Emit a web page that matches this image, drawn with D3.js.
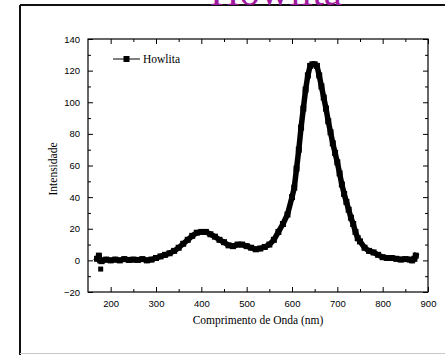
<!DOCTYPE html>
<html>
<head>
<meta charset="utf-8">
<script src="https://cdn.jsdelivr.net/npm/d3@7/dist/d3.min.js"></script>
<style>
  html, body { margin: 0; padding: 0; background: #fff; }
  svg { display: block; }
</style>
</head>
<body>
<svg id="chart" width="445" height="355"></svg>
<script>
// Emission spectrum of howlite: wavelength (nm) and intensity
const wavelength = [170, 174, 177, 180, 190, 200, 210, 220, 230, 240, 250, 260, 270, 280, 290,
  300, 310, 320, 330, 340, 350, 360, 370, 380, 390, 400, 410, 420, 430, 440, 450, 460, 470,
  480, 490, 500, 510, 520, 530, 540, 550, 560, 570, 580, 590, 600, 605, 610, 615, 620, 625,
  630, 635, 640, 645, 650, 655, 660, 665, 670, 675, 680, 685, 690, 695, 700, 705, 710, 715,
  720, 725, 730, 735, 740, 745, 750, 760, 770, 780, 790, 800, 810, 820, 830, 840, 850, 860,
  865, 870, 873];
const intensity = [1, 3, 0, -0.5, 0.5, 0, 0.5, 0, 0.8, 0.3, 0.5, 0.3, 0.8, 0, 0.5,
  1.5, 2.5, 3.5, 4.5, 6, 8, 10.5, 13, 15.5, 17.5, 18, 18, 16.5, 15, 13, 11.5, 9.5, 9,
  10, 10, 9, 8, 7, 7.5, 8.5, 10, 13, 18, 23, 29, 40, 46, 58, 70, 84, 96,
  108, 117, 123, 124, 124, 123, 117, 110, 103, 96, 88, 81, 74, 68, 62, 55, 48, 42,
  37, 32, 27, 23, 18, 14, 12, 8, 6, 5, 3.5, 2, 1.5, 1.5, 1, 0.5, 0.8, 0.5,
  0, 1, 3];
// isolated low reading near the start of the scan
const strayWavelength = [178];
const strayIntensity = [-5.5];

const xTicks = [200, 300, 400, 500, 600, 700, 800, 900];
const yTicks = [-20, 0, 20, 40, 60, 80, 100, 120, 140];
const seriesName = "Howlita";

const svg = d3.select("#chart");

// outer page frame
svg.append("line").attr("x1", 20).attr("x2", 445).attr("y1", 5).attr("y2", 5)
  .attr("stroke", "#111").attr("stroke-width", 2);
svg.append("line").attr("x1", 20).attr("x2", 20).attr("y1", 5).attr("y2", 355)
  .attr("stroke", "#111").attr("stroke-width", 2);
svg.append("line").attr("x1", 20).attr("x2", 445).attr("y1", 353.5).attr("y2", 353.5)
  .attr("stroke", "#c8c8c8").attr("stroke-width", 1);

// title, partially above the page
svg.append("text").attr("x", 276).attr("y", 5).attr("text-anchor", "middle")
  .attr("font-family", "Liberation Serif, Times New Roman, serif").attr("font-size", 41)
  .attr("fill", "#a0189f").text(seriesName);

const plotL = 88, plotR = 428, plotT = 39, plotB = 292;
const x = d3.scaleLinear().domain([150, 900]).range([plotL, plotR]);
const y = d3.scaleLinear().domain([-20, 140]).range([plotB, plotT]);

const axisFont = "Liberation Sans, Arial, sans-serif";
const minorX = d3.range(250, 900, 100);
const minorY = d3.range(-10, 140, 20);

function styleAxis(g) {
  g.select(".domain").remove();
  g.selectAll("line").attr("stroke", "#000");
  g.selectAll("text").attr("font-family", axisFont).attr("font-size", 9.5).attr("fill", "#000");
}

// bottom axis with labels
svg.append("g").attr("transform", `translate(0,${plotB})`)
  .call(d3.axisBottom(x).tickValues(xTicks).tickSizeInner(-5).tickSizeOuter(0).tickPadding(8))
  .call(styleAxis);
svg.append("g").attr("transform", `translate(0,${plotB})`)
  .call(d3.axisBottom(x).tickValues(minorX).tickSizeInner(-3).tickSizeOuter(0).tickFormat(""))
  .call(styleAxis);
// top axis, ticks only
svg.append("g").attr("transform", `translate(0,${plotT})`)
  .call(d3.axisTop(x).tickValues(xTicks).tickSizeInner(-5).tickSizeOuter(0).tickFormat(""))
  .call(styleAxis);
svg.append("g").attr("transform", `translate(0,${plotT})`)
  .call(d3.axisTop(x).tickValues(minorX).tickSizeInner(-3).tickSizeOuter(0).tickFormat(""))
  .call(styleAxis);
// left axis with labels
svg.append("g").attr("transform", `translate(${plotL},0)`)
  .call(d3.axisLeft(y).tickValues(yTicks).tickSizeInner(-5).tickSizeOuter(0).tickPadding(8))
  .call(styleAxis);
svg.append("g").attr("transform", `translate(${plotL},0)`)
  .call(d3.axisLeft(y).tickValues(minorY).tickSizeInner(-3).tickSizeOuter(0).tickFormat(""))
  .call(styleAxis);
// right axis, ticks only
svg.append("g").attr("transform", `translate(${plotR},0)`)
  .call(d3.axisRight(y).tickValues(yTicks).tickSizeInner(-5).tickSizeOuter(0).tickFormat(""))
  .call(styleAxis);
svg.append("g").attr("transform", `translate(${plotR},0)`)
  .call(d3.axisRight(y).tickValues(minorY).tickSizeInner(-3).tickSizeOuter(0).tickFormat(""))
  .call(styleAxis);

// plot frame
svg.append("rect").attr("x", plotL).attr("y", plotT)
  .attr("width", plotR - plotL).attr("height", plotB - plotT)
  .attr("fill", "none").attr("stroke", "#000").attr("stroke-width", 1.2);

// axis titles
svg.append("text").attr("x", 258).attr("y", 324).attr("text-anchor", "middle")
  .attr("font-family", "Liberation Serif, Times New Roman, serif").attr("font-size", 11.5)
  .text("Comprimento de Onda (nm)");
svg.append("text").attr("transform", "translate(57,169) rotate(-90)").attr("text-anchor", "middle")
  .attr("font-family", "Liberation Serif, Times New Roman, serif").attr("font-size", 11.5)
  .text("Intensidade");

// spectrum: dense square markers joined into a heavy trace
const pts = wavelength.map((w, i) => [w, intensity[i]]);
const line = d3.line().x(d => x(d[0])).y(d => y(d[1]));
svg.append("path").datum(pts).attr("d", line)
  .attr("fill", "none").attr("stroke", "#000").attr("stroke-width", 5.5)
  .attr("stroke-linejoin", "round").attr("stroke-linecap", "square");
const ms = 6;
svg.append("g").selectAll("rect").data(pts).join("rect")
  .attr("x", d => x(d[0]) - ms / 2).attr("y", d => y(d[1]) - ms / 2)
  .attr("width", ms).attr("height", ms).attr("fill", "#000");
svg.append("g").selectAll("rect").data(strayWavelength.map((w, i) => [w, strayIntensity[i]])).join("rect")
  .attr("x", d => x(d[0]) - 2.5).attr("y", d => y(d[1]) - 2.5)
  .attr("width", 5).attr("height", 5).attr("fill", "#000");

// legend
const lg = svg.append("g").attr("transform", "translate(113,59)");
lg.append("line").attr("x1", 0).attr("x2", 27).attr("y1", 0).attr("y2", 0)
  .attr("stroke", "#000").attr("stroke-width", 1);
lg.append("rect").attr("x", 10.5).attr("y", -3).attr("width", 6).attr("height", 6).attr("fill", "#000");
lg.append("text").attr("x", 30).attr("y", 4).attr("font-family", "Liberation Serif, Times New Roman, serif")
  .attr("font-size", 11.5).text(seriesName);
</script>
</body>
</html>
